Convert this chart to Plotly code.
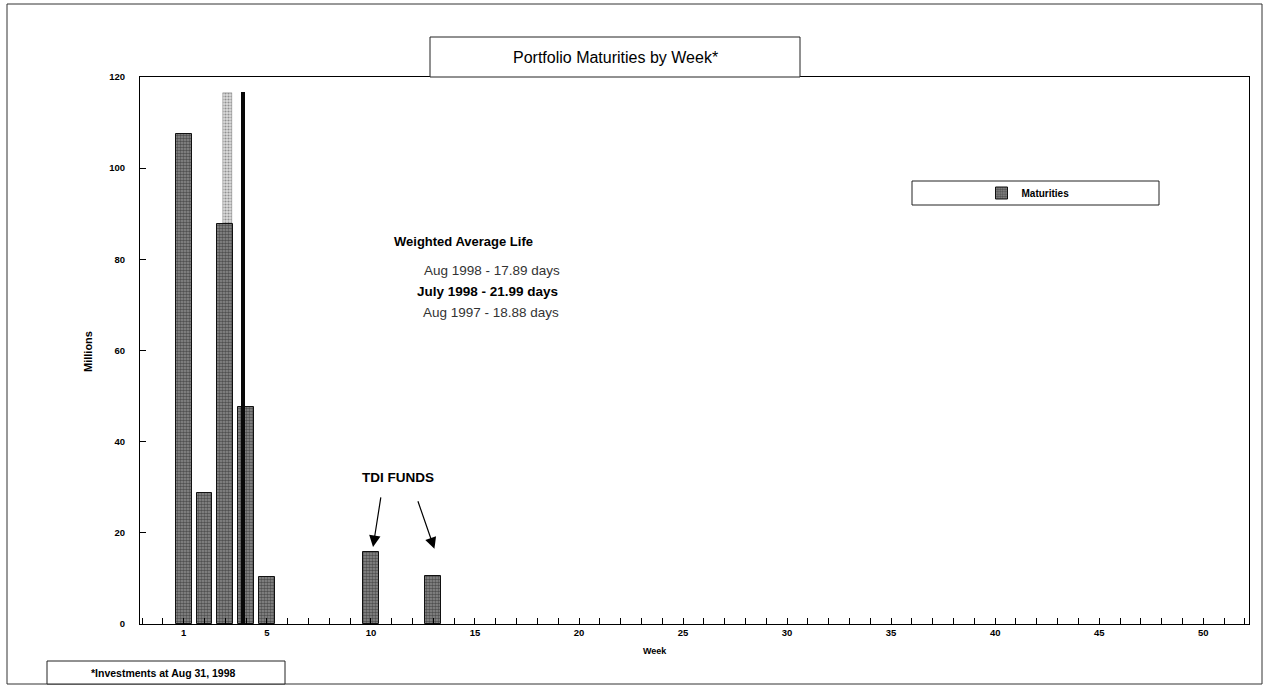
import plotly.graph_objects as go

# ---- data ----
weeks = [1, 2, 3, 4, 5, 10, 13]
maturities = [107.5, 28.7, 87.8, 47.6, 10.4, 15.8, 10.5]
# scan overlay marks near weeks 3-4
ghost_light_week = [3.1]
ghost_light_value = [116.5]
ghost_dark_week = [3.84]
ghost_dark_value = [116.8]
y_ticks = [0, 20, 40, 60, 80, 100, 120]
x_ticks = [1, 5, 10, 15, 20, 25, 30, 35, 40, 45, 50]

W, H = 1264, 687
L, R, T, B = 140, 1249, 77, 624
def px(x):
    return (x - L) / (R - L)
def py(y):
    return (B - y) / (B - T)

FONT = "Liberation Sans, Arial, sans-serif"

fig = go.Figure()
fig.add_trace(go.Bar(
    x=ghost_light_week, y=ghost_light_value, width=0.45, showlegend=False,
    marker=dict(color="#d8d8d8", line=dict(color="#888", width=0.5),
                pattern=dict(shape=".", fgcolor="#444", bgcolor="#dcdcdc", size=3, solidity=0.4)),
    hoverinfo="skip"))
fig.add_trace(go.Bar(
    x=weeks, y=maturities, width=0.76, name="Maturities",
    marker=dict(color="#6e6e6e", line=dict(color="#111", width=1),
                pattern=dict(shape=".", fgcolor="#111111", bgcolor="#8e8e8e", size=3, solidity=0.55))))
fig.add_trace(go.Bar(
    x=ghost_dark_week, y=ghost_dark_value, width=0.22, showlegend=False,
    marker=dict(color="#080808", line=dict(color="#000", width=0)), hoverinfo="skip"))

shapes = []
# outer page frame
shapes.append(dict(type="rect", xref="paper", yref="paper", x0=px(7), x1=px(1262), y0=py(684), y1=py(4),
                   line=dict(color="#333", width=1), layer="below"))
# title box
shapes.append(dict(type="rect", xref="paper", yref="paper", x0=px(430), x1=px(800), y0=py(77), y1=py(37),
                   line=dict(color="#222", width=1), fillcolor="white"))
# legend box
shapes.append(dict(type="rect", xref="paper", yref="paper", x0=px(912), x1=px(1159), y0=py(205), y1=py(181),
                   line=dict(color="#222", width=1), fillcolor="white", layer="below"))
# footnote box
shapes.append(dict(type="rect", xref="paper", yref="paper", x0=px(47), x1=px(285), y0=py(684), y1=py(661),
                   line=dict(color="#222", width=1), fillcolor="white"))

ann = []
def txt(x, y, s, size, bold=False, color="#000", angle=0):
    ann.append(dict(xref="paper", yref="paper", x=px(x), y=py(y), text=s, showarrow=False,
                    xanchor="center", yanchor="middle", textangle=angle,
                    font=dict(family=FONT, size=size, color=color, weight="bold" if bold else "normal")))

txt(615, 57, "Portfolio Maturities by Week*", 16)
txt(463, 241, "Weighted Average Life", 13, bold=True)
txt(492, 270, "Aug 1998 - 17.89 days", 13.5, color="#333333")
txt(487, 291, "July 1998 - 21.99 days", 13.5, bold=True)
txt(491, 312, "Aug 1997 - 18.88 days", 13.5, color="#333333")
txt(398, 477, "TDI FUNDS", 13.5, bold=True)
txt(655, 651, "Week", 9, bold=True)
txt(88, 352, "Millions", 11, bold=True, angle=-90)
txt(163, 673, "*Investments at Aug 31, 1998", 10.5, bold=True)

# arrows
ann.append(dict(x=10.1, y=16.9, xref="x", yref="y", ax=8, ay=-51, showarrow=True,
                arrowhead=2, arrowsize=1.9, arrowwidth=1.2, arrowcolor="#000", text=""))
ann.append(dict(x=13.05, y=16.5, xref="x", yref="y", ax=-17, ay=-49, showarrow=True,
                arrowhead=2, arrowsize=1.9, arrowwidth=1.2, arrowcolor="#000", text=""))

fig.update_layout(
    width=W, height=H, barmode="overlay", bargap=0,
    margin=dict(l=L, r=W - R, t=T, b=H - B),
    paper_bgcolor="white", plot_bgcolor="white",
    shapes=shapes, annotations=ann,
    font=dict(family=FONT, size=9, color="#000"),
    legend=dict(x=px(1028), y=py(193), xanchor="center", yanchor="middle",
                bgcolor="rgba(0,0,0,0)", borderwidth=0, itemwidth=30,
                font=dict(family=FONT, size=10, weight="bold")),
    xaxis=dict(range=[-1.1, 52.2], tickmode="array", tickvals=x_ticks,
               ticks="inside", ticklen=6, tickcolor="#000", showgrid=False, zeroline=False,
               showline=True, linecolor="#000", linewidth=1, mirror=True,
               tickfont=dict(family=FONT, size=9.5, weight="bold"),
               minor=dict(tickmode="linear", tick0=0, dtick=1, ticks="inside", ticklen=6, tickcolor="#000")),
    yaxis=dict(range=[0, 120], tickmode="array", tickvals=y_ticks,
               ticks="inside", ticklen=6, tickcolor="#000", showgrid=False, zeroline=False,
               showline=True, linecolor="#000", linewidth=1, mirror=True,
               ticklabelstandoff=12,
               tickfont=dict(family=FONT, size=9.5, weight="bold")),
)

fig.write_html("out.html", config={"displayModeBar": False},
               post_script="document.body.style.margin='0';document.body.style.overflow='hidden';")
